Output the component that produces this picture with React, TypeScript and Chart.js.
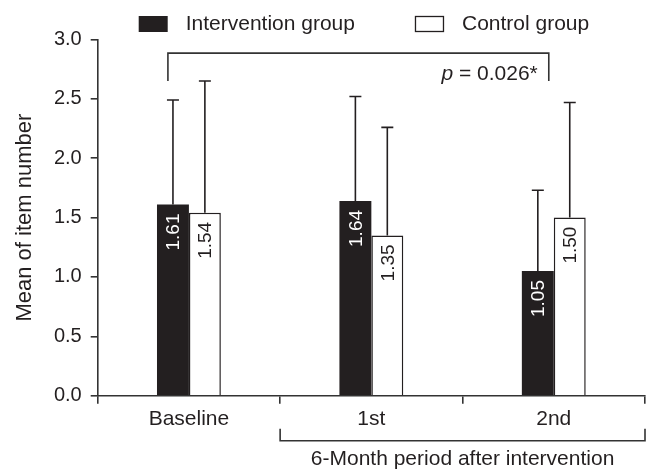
import React, { useEffect, useRef } from "react";
import { Chart, registerables } from "chart.js";

Chart.register(...registerables);

const categories = ["Baseline", "1st", "2nd"];
const seriesLabels = ["Intervention group", "Control group"];
const interventionMeans = [1.61, 1.64, 1.05];
const controlMeans = [1.54, 1.35, 1.5];
const interventionSD = [0.88, 0.88, 0.68];
const controlSD = [1.11, 0.91, 0.97];
const yTicks = [0, 0.5, 1.0, 1.5, 2.0, 2.5, 3.0];
const pValueText = "0.026*";
const periodLabel = "6-Month period after intervention";
const yTitle = "Mean of item number";

const INK = "#231f20";
const LINE = "#333333";
const FONT = "'Liberation Sans', Arial, Helvetica, sans-serif";

const annotations = {
  id: "annotations",
  afterDatasetsDraw(chart: any) {
    const { ctx, chartArea, scales } = chart;
    const x = scales.x;
    const y = scales.y;
    ctx.save();

    // error bars
    const sds = [interventionSD, controlSD];
    chart.data.datasets.forEach((ds: any, di: number) => {
      const meta = chart.getDatasetMeta(di);
      meta.data.forEach((bar: any, i: number) => {
        const v = ds.data[i];
        const top = y.getPixelForValue(v + sds[di][i]);
        const base = y.getPixelForValue(v);
        ctx.strokeStyle = INK;
        ctx.lineWidth = 1.6;
        ctx.beginPath();
        ctx.moveTo(bar.x, base);
        ctx.lineTo(bar.x, top);
        ctx.moveTo(bar.x - 6, top);
        ctx.lineTo(bar.x + 6, top);
        ctx.stroke();
      });
    });

    // value labels (rotated)
    chart.data.datasets.forEach((ds: any, di: number) => {
      const meta = chart.getDatasetMeta(di);
      meta.data.forEach((bar: any, i: number) => {
        const v = ds.data[i];
        ctx.save();
        ctx.translate(bar.x + 1, bar.y + 9);
        ctx.rotate(-Math.PI / 2);
        ctx.font = `19px ${FONT}`;
        ctx.fillStyle = di === 0 ? "#ffffff" : INK;
        ctx.textAlign = "right";
        ctx.textBaseline = "middle";
        ctx.fillText(v.toFixed(2), 0, 0);
        ctx.restore();
      });
    });

    // p-value bracket
    const bl = x.getPixelForValue(0) - 21;
    const br = x.getPixelForValue(2) - 5;
    const bt = y.getPixelForValue(2.885);
    const bb = y.getPixelForValue(2.65);
    ctx.strokeStyle = LINE;
    ctx.lineWidth = 1.6;
    ctx.beginPath();
    ctx.moveTo(bl, bb);
    ctx.lineTo(bl, bt);
    ctx.lineTo(br, bt);
    ctx.lineTo(br, bb);
    ctx.stroke();
    ctx.fillStyle = INK;
    ctx.textBaseline = "alphabetic";
    ctx.textAlign = "right";
    ctx.font = `21px ${FONT}`;
    const rest = " = " + pValueText;
    const restW = ctx.measureText(rest).width;
    ctx.fillText(rest, br - 11, bb - 1);
    ctx.font = `italic 21px ${FONT}`;
    ctx.fillText("p", br - 11 - restW, bb - 1);

    // bottom period bracket
    const pl = x.getPixelForValue(0.5);
    const pr = x.getPixelForValue(2.5);
    const pt = chartArea.bottom + 33;
    const pb = chartArea.bottom + 45;
    ctx.beginPath();
    ctx.moveTo(pl, pt);
    ctx.lineTo(pl, pb);
    ctx.lineTo(pr, pb);
    ctx.lineTo(pr, pt);
    ctx.stroke();
    ctx.font = `21px ${FONT}`;
    ctx.textAlign = "center";
    ctx.textBaseline = "middle";
    ctx.fillText(periodLabel, (pl + pr) / 2, chartArea.bottom + 64);

    // legend
    ctx.font = `21px ${FONT}`;
    const boxW = 29;
    const boxH = 16;
    const ly = 16;
    let lx = chartArea.left + 41;
    chart.data.datasets.forEach((ds: any, di: number) => {
      if (di === 0) {
        ctx.fillStyle = INK;
        ctx.fillRect(lx, ly, boxW, boxH);
      } else {
        ctx.fillStyle = "#fff";
        ctx.fillRect(lx, ly, boxW, boxH);
        ctx.strokeStyle = INK;
        ctx.lineWidth = 1.3;
        ctx.strokeRect(lx + 0.5, ly + 0.5, boxW - 1, boxH - 1);
      }
      ctx.fillStyle = INK;
      ctx.textAlign = "left";
      ctx.textBaseline = "middle";
      const tx = lx + boxW + 18;
      ctx.fillText(ds.label, tx, ly + boxH / 2);
      lx = tx + ctx.measureText(ds.label).width + 60;
    });

    ctx.restore();
  },
};

export default function App() {
  const ref = useRef<HTMLCanvasElement | null>(null);
  useEffect(() => {
    if (!ref.current) return;
    const chart = new Chart(ref.current, {
      type: "bar",
      data: {
        labels: categories,
        datasets: [
          {
            label: seriesLabels[0],
            data: interventionMeans,
            backgroundColor: INK,
            borderColor: INK,
            borderWidth: 0,
            categoryPercentage: 0.35,
            barPercentage: 1,
          },
          {
            label: seriesLabels[1],
            data: controlMeans,
            backgroundColor: "#ffffff",
            borderColor: INK,
            borderWidth: 1.5,
            categoryPercentage: 0.35,
            barPercentage: 1,
          },
        ],
      },
      options: {
        responsive: false,
        animation: false,
        devicePixelRatio: 1,
        layout: { padding: { top: 39.5, right: 3, left: 0, bottom: 0 } },
        plugins: {
          legend: { display: false },
          tooltip: { enabled: false },
        },
        scales: {
          x: {
            offset: true,
            grid: {
              display: true,
              offset: true,
              drawOnChartArea: false,
              drawTicks: true,
              tickLength: 8,
              color: LINE,
              lineWidth: 1.6,
            },
            border: { display: true, color: LINE, width: 1.6 },
            ticks: {
              color: INK,
              padding: 3,
              font: { family: FONT, size: 21 },
            },
            afterFit: (scale: any) => {
              scale.height = 74.3;
            },
          },
          y: {
            min: 0,
            max: 3,
            afterBuildTicks: (scale: any) => {
              scale.ticks = yTicks.map((v) => ({ value: v }));
            },
            grid: {
              display: true,
              drawOnChartArea: false,
              drawTicks: true,
              tickLength: 7,
              color: LINE,
              lineWidth: 1.6,
            },
            border: { display: true, color: LINE, width: 1.6 },
            ticks: {
              color: INK,
              padding: 9,
              font: { family: FONT, size: 20 },
              callback: (v: any) => Number(v).toFixed(1),
            },
            title: {
              display: true,
              text: yTitle,
              color: INK,
              font: { family: FONT, size: 22 },
              padding: { top: 12, bottom: 0 },
            },
            afterFit: (scale: any) => {
              scale.width = 97.7;
            },
          },
        },
      },
      plugins: [annotations],
    });
    return () => chart.destroy();
  }, []);
  return (
    <div style={{ position: "absolute", left: 0, top: 0, width: 648, height: 470, background: "#fff" }}>
      <canvas ref={ref} width={648} height={470} style={{ width: 648, height: 470, display: "block" }} />
    </div>
  );
}
